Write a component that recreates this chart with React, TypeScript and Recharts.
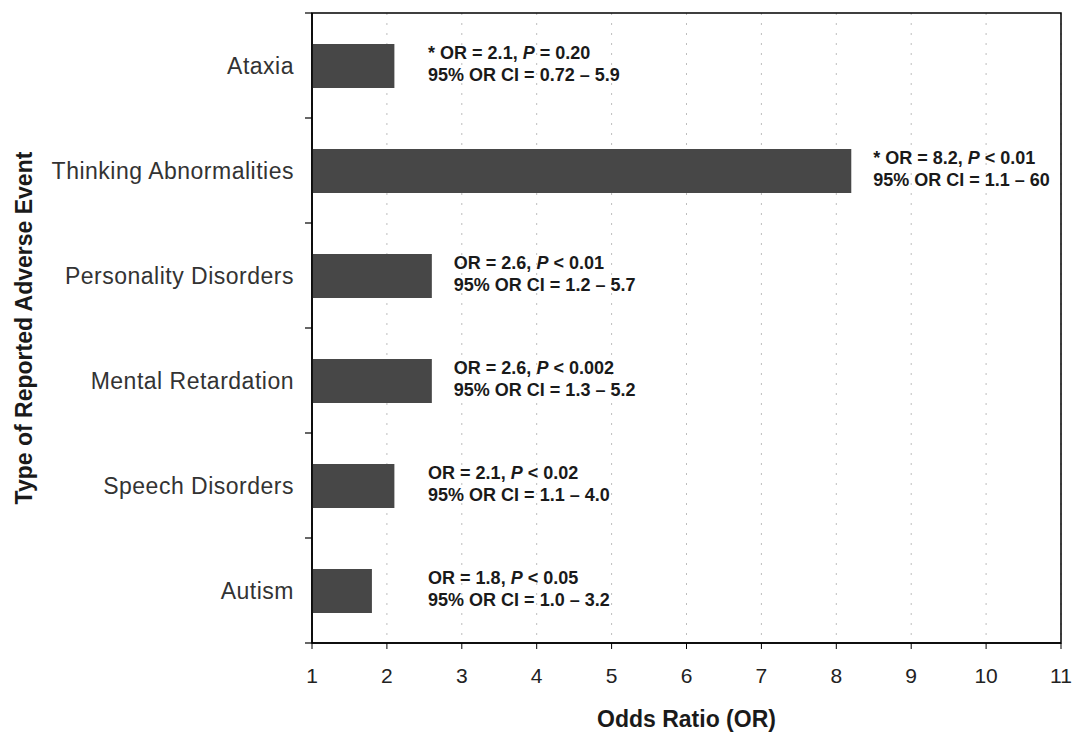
import React from 'react';
import { BarChart, Bar, XAxis, YAxis, CartesianGrid, LabelList, Label, ReferenceArea } from 'recharts';

const categories = [
  'Ataxia',
  'Thinking Abnormalities',
  'Personality Disorders',
  'Mental Retardation',
  'Speech Disorders',
  'Autism',
];
const oddsRatios = [2.1, 8.2, 2.6, 2.6, 2.1, 1.8];
const pRelations = ['=', '<', '<', '<', '<', '<'];
const pValues = ['0.20', '0.01', '0.01', '0.002', '0.02', '0.05'];
const ciLower = ['0.72', '1.1', '1.2', '1.3', '1.1', '1.0'];
const ciUpper = ['5.9', '60', '5.7', '5.2', '4.0', '3.2'];
const starred = [true, true, false, false, false, false];
const xTicks = [1, 2, 3, 4, 5, 6, 7, 8, 9, 10, 11];

const data = categories.map((name, i) => ({ name, or: oddsRatios[i] }));

const FONT = '"Liberation Sans", Arial, Helvetica, sans-serif';
const X_MIN = 1;
const LABEL_MIN_OR = 2.55; // annotation column never starts left of this OR value
const Y_TICK_SIZE = 6;
const Y_TICK_MARGIN = 12;
const EDGE_TICK_LEN = 7;

const AnnotLabel = (props: any) => {
  const { x, y, width, height, index } = props;
  const i = index as number;
  const w = Number(width);
  const pxPerUnit = w / (oddsRatios[i] - X_MIN);
  const minX = Number(x) + (LABEL_MIN_OR - X_MIN) * pxPerUnit;
  const tx = Math.max(Number(x) + w + 22, minX);
  const cy = Number(y) + Number(height) / 2;
  return (
    <g>
      <text x={tx} y={cy - 7} fontFamily={FONT} fontWeight="bold" fontSize={18} fill="#1a1a1a">
        {(starred[i] ? '* ' : '') + 'OR = ' + oddsRatios[i].toFixed(1) + ', '}
        <tspan fontStyle="italic">P</tspan>
        {' ' + pRelations[i] + ' ' + pValues[i]}
      </text>
      <text x={tx} y={cy + 15} fontFamily={FONT} fontWeight="bold" fontSize={18} fill="#1a1a1a">
        {'95% OR CI = ' + ciLower[i] + ' \u2013 ' + ciUpper[i]}
      </text>
    </g>
  );
};

const CategoryTick = (props: any) => {
  const { x, y, payload, index, visibleTicksCount } = props;
  const half = Number(payload?.offset) || 0;
  const axisX = Number(x) + Y_TICK_SIZE + Y_TICK_MARGIN;
  const isLast = index === (visibleTicksCount ?? categories.length) - 1;
  return (
    <g>
      <line x1={axisX - EDGE_TICK_LEN} x2={axisX} y1={y - half} y2={y - half} stroke="#000" strokeWidth={1.2} />
      {isLast && (
        <line x1={axisX - EDGE_TICK_LEN} x2={axisX} y1={y + half} y2={y + half} stroke="#000" strokeWidth={1.2} />
      )}
      <text
        x={x}
        y={y}
        dy="0.35em"
        textAnchor="end"
        fontFamily={FONT}
        fontSize={23}
        fill="#333"
        letterSpacing={0.5}
      >
        {payload?.value}
      </text>
    </g>
  );
};

export default function App() {
  return (
    <div style={{ position: 'absolute', left: 0, top: 0, background: '#fff' }}>
      <BarChart
        width={1076}
        height={734}
        data={data}
        layout="vertical"
        margin={{ top: 13, right: 15, bottom: 0, left: 0 }}
      >
        <CartesianGrid
          yAxisId="cat"
          horizontal={false}
          vertical={true}
          stroke="#bdbdbd"
          strokeDasharray="2 8"
        />
        <YAxis
          yAxisId="cat"
          type="category"
          dataKey="name"
          width={312}
          interval={0}
          tickLine={false}
          tickSize={Y_TICK_SIZE}
          tickMargin={Y_TICK_MARGIN}
          axisLine={{ stroke: '#000', strokeWidth: 1.5 }}
          tick={<CategoryTick />}
        >
          <Label
            content={(p: any) => {
              const vb = p.viewBox || {};
              const cx = (vb.x || 0) + 32;
              const cy = (vb.y || 0) + (vb.height || 0) / 2;
              return (
                <text
                  x={cx}
                  y={cy}
                  transform={`rotate(-90, ${cx}, ${cy})`}
                  textAnchor="middle"
                  fontFamily={FONT}
                  fontWeight="bold"
                  fontSize={23}
                  fill="#1a1a1a"
                >
                  Type of Reported Adverse Event
                </text>
              );
            }}
          />
        </YAxis>
        <XAxis
          type="number"
          domain={[X_MIN, 11]}
          ticks={xTicks}
          interval={0}
          height={91}
          tickSize={6}
          tickMargin={19}
          axisLine={{ stroke: '#000', strokeWidth: 1.5 }}
          tickLine={{ stroke: '#000' }}
          tick={{ fontSize: 21, fill: '#222', fontFamily: FONT }}
        >
          <Label
            content={(p: any) => {
              const vb = p.viewBox || {};
              const cx = (vb.x || 0) + (vb.width || 0) / 2;
              const by = (vb.y || 0) + 84;
              return (
                <text
                  x={cx}
                  y={by}
                  textAnchor="middle"
                  fontFamily={FONT}
                  fontWeight="bold"
                  fontSize={23}
                  fill="#1a1a1a"
                >
                  Odds Ratio (OR)
                </text>
              );
            }}
          />
        </XAxis>
        <ReferenceArea
          yAxisId="cat"
          x1={X_MIN}
          x2={11}
          y1={categories[0]}
          y2={categories[categories.length - 1]}
          fill="none"
          fillOpacity={0}
          stroke="#000"
          strokeWidth={1.5}
          ifOverflow="visible"
        />
        <Bar dataKey="or" yAxisId="cat" fill="#474747" barSize={44} isAnimationActive={false}>
          <LabelList dataKey="or" content={AnnotLabel} />
        </Bar>
      </BarChart>
    </div>
  );
}
